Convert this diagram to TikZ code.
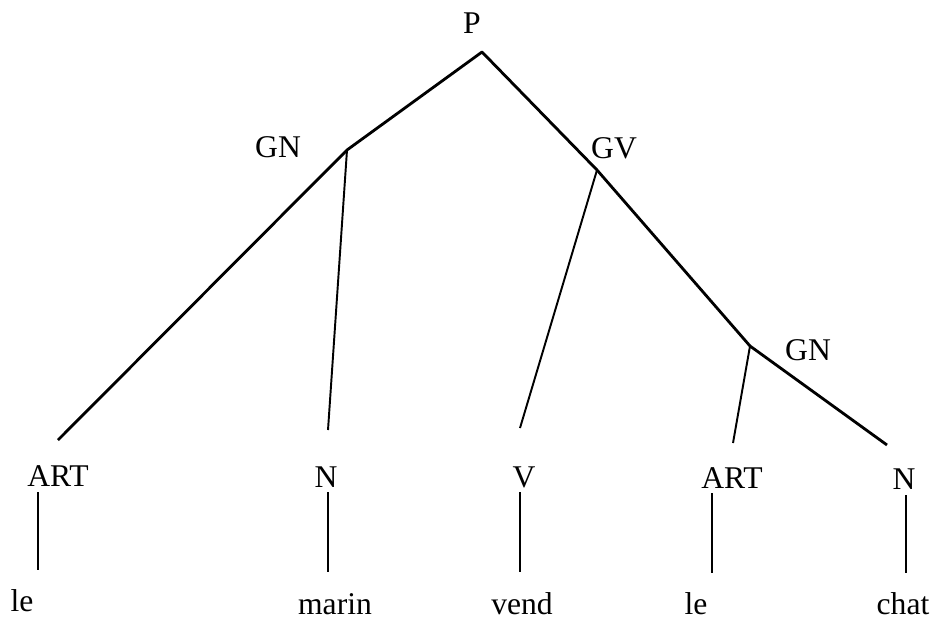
\documentclass[tikz,border=0pt]{standalone}
\usepackage{fontspec}
\setmainfont{Liberation Serif}
\usepackage{tikz}
\usetikzlibrary{positioning,calc}

\begin{document}
\begin{tikzpicture}[x=0.02cm,y=-0.02cm,
    cat/.style={inner sep=0pt,anchor=base,font=\fontsize{18}{20}\selectfont},
    word/.style={cat},
    branch/.style={line width=1.6pt,line join=round},
    twig/.style={line width=1.1pt},
    stem/.style={line width=0.9pt}]
  \useasboundingbox (0,0) rectangle (935,619);

  % category labels
  \node[cat] (p)    at (472,33)  {P};
  \node[cat] (gn1)  at (278,157) {GN};
  \node[cat] (gv)   at (614,158) {GV};
  \node[cat] (gn2)  at (808,360) {GN};
  \node[cat] (art1) at (58,486)  {ART};
  \node[cat] (n1)   at (326,487) {N};
  \node[cat] (v)    at (524,487) {V};
  \node[cat] (art2) at (732,488) {ART};
  \node[cat] (n2)   at (904,489) {N};

  % words
  \node[word] (le1)   at (22,611)  {le};
  \node[word] (marin) at (335,614) {marin};
  \node[word] (vend)  at (522,614) {vend};
  \node[word] (le2)   at (696,614) {le};
  \node[word] (chat)  at (903,614) {chat};

  % branching points and free ends
  \coordinate (p-x)   at (482,52);
  \coordinate (gn1-x) at (347,150);
  \coordinate (gv-x)  at (597,170);
  \coordinate (gn2-x) at (750,346);
  \coordinate (art1-end) at (58,440);
  \coordinate (n1-end)   at (328,430);
  \coordinate (v-end)    at (520,428);
  \coordinate (art2-end) at (733,443);
  \coordinate (n2-end)   at (887,445);

  \draw[branch] (art1-end) -- (gn1-x) -- (p-x) -- (gv-x) -- (gn2-x) -- (n2-end);
  \draw[twig] (gn1-x) -- (n1-end);
  \draw[twig] (gv-x) -- (v-end);
  \draw[twig] (gn2-x) -- (art2-end);

  % lexical stems
  \draw[stem] (art1.base) ++(-20,6) -- ++(0,78);
  \draw[stem] (n1.base)   ++(2,5)   -- ++(0,80);
  \draw[stem] (v.base)    ++(-4,5)  -- ++(0,80);
  \draw[stem] (art2.base) ++(-20,5) -- ++(0,80);
  \draw[stem] (n2.base)   ++(2,6)   -- ++(0,78);
\end{tikzpicture}
\end{document}
